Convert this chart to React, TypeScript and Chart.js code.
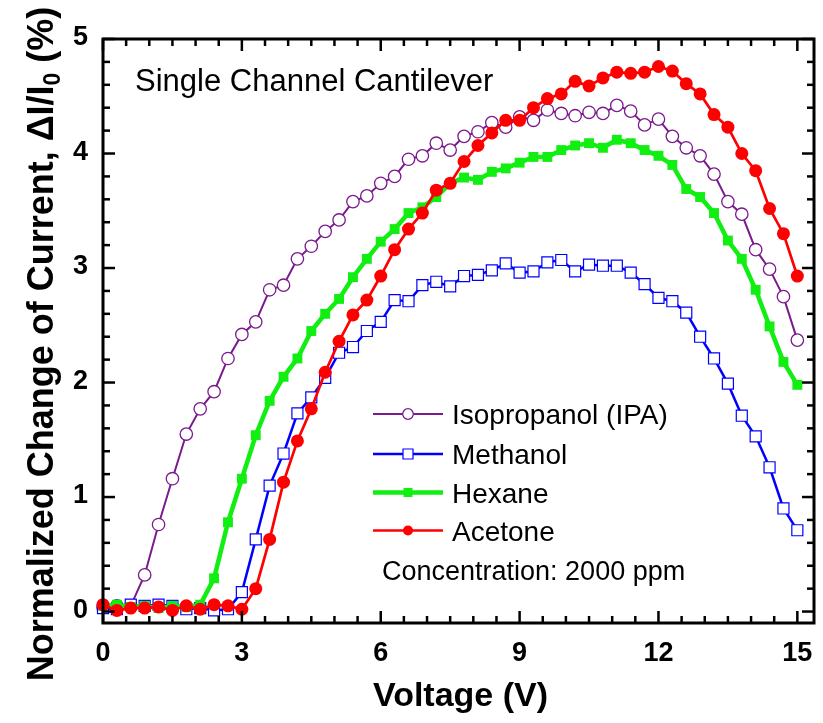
import { useEffect, useRef } from "react";
import { Chart, registerables } from "chart.js";

Chart.register(...registerables);

// ---------- data ----------
const voltage = [
  0, 0.3, 0.6, 0.9, 1.2, 1.5, 1.8, 2.1, 2.4, 2.7,
  3, 3.3, 3.6, 3.9, 4.2, 4.5, 4.8, 5.1, 5.4, 5.7,
  6, 6.3, 6.6, 6.9, 7.2, 7.5, 7.8, 8.1, 8.4, 8.7,
  9, 9.3, 9.6, 9.9, 10.2, 10.5, 10.8, 11.1, 11.4, 11.7,
  12, 12.3, 12.6, 12.9, 13.2, 13.5, 13.8, 14.1, 14.4, 14.7,
  15,
];

const isopropanol = [
  0.04, 0.05, 0.05, 0.32, 0.76, 1.16, 1.55, 1.77, 1.92, 2.21,
  2.42, 2.53, 2.81, 2.85, 3.08, 3.19, 3.32, 3.42, 3.58, 3.63,
  3.74, 3.8, 3.95, 3.98, 4.09, 4.03, 4.15, 4.19, 4.27, 4.23,
  4.32, 4.29, 4.38, 4.35, 4.33, 4.36, 4.35, 4.42, 4.37, 4.25,
  4.3, 4.15, 4.05, 3.98, 3.82, 3.58, 3.47, 3.16, 2.99, 2.75,
  2.37,
];

const methanol = [
  0.03, 0.02, 0.06, 0.05, 0.06, 0.05, 0.02, 0.03, 0.01, 0.02,
  0.17, 0.63, 1.1, 1.38, 1.73, 1.87, 2.04, 2.26, 2.31, 2.45,
  2.53, 2.72, 2.71, 2.85, 2.88, 2.84, 2.93, 2.94, 2.98, 3.04,
  2.96, 2.97, 3.05, 3.07, 2.97, 3.03, 3.02, 3.02, 2.96, 2.86,
  2.74, 2.71, 2.61, 2.4, 2.21, 1.99, 1.71, 1.53, 1.26, 0.9,
  0.71,
];

const hexane = [
  0.05, 0.06, 0.04, 0.05, 0.03, 0.05, 0.04, 0.06, 0.29, 0.78,
  1.16, 1.54, 1.84, 2.05, 2.21, 2.45, 2.6, 2.73, 2.92, 3.08,
  3.23, 3.34, 3.48, 3.53, 3.62, 3.74, 3.79, 3.77, 3.84, 3.87,
  3.92, 3.97, 3.97, 4.03, 4.07, 4.09, 4.05, 4.12, 4.09, 4.03,
  3.98, 3.9, 3.69, 3.62, 3.48, 3.24, 3.08, 2.81, 2.49, 2.18,
  1.98,
];

const acetone = [
  0.06, 0.01, 0.03, 0.03, 0.04, 0.01, 0.05, 0.02, 0.06, 0.05,
  0.02, 0.2, 0.63, 1.13, 1.49, 1.77, 2.09, 2.36, 2.59, 2.72,
  2.93, 3.16, 3.34, 3.48, 3.68, 3.74, 3.93, 4.07, 4.18, 4.29,
  4.29, 4.4, 4.48, 4.52, 4.63, 4.59, 4.66, 4.71, 4.7, 4.71,
  4.76, 4.72, 4.61, 4.52, 4.34, 4.23, 4.0, 3.85, 3.52, 3.3,
  2.93,
];

const seriesNames = ["Isopropanol (IPA)", "Methanol", "Hexane", "Acetone"];
const xTickLabels = [0, 3, 6, 9, 12, 15];
const yTickLabels = [0, 1, 2, 3, 4, 5];

const FONT = '"Liberation Sans", Arial, Helvetica, sans-serif';

const toPoints = (ys: number[]) => ys.map((y, i) => ({ x: voltage[i], y }));

const framePlugin = {
  id: "framePlugin",
  afterDraw(chart: any) {
    const { ctx, chartArea: a } = chart;
    const xs = chart.scales.x;
    const ys = chart.scales.y;
    ctx.save();

    // frame
    ctx.strokeStyle = "#000";
    ctx.lineWidth = 3;
    ctx.strokeRect(a.left, a.top, a.right - a.left, a.bottom - a.top);

    // inward ticks
    ctx.lineWidth = 2.5;
    const seg = (x1: number, y1: number, x2: number, y2: number) => {
      ctx.beginPath();
      ctx.moveTo(x1, y1);
      ctx.lineTo(x2, y2);
      ctx.stroke();
    };
    for (let k = 0; k <= 30; k++) {
      const v = k * 0.5;
      const px = xs.getPixelForValue(v);
      const len = k % 6 === 0 ? 12 : 7;
      seg(px, a.bottom, px, a.bottom - len);
      seg(px, a.top, px, a.top + len);
    }
    for (let k = 0; k <= 25; k++) {
      const v = k * 0.2;
      const py = ys.getPixelForValue(v);
      const len = k % 5 === 0 ? 12 : 7;
      seg(a.left, py, a.left + len, py);
      seg(a.right, py, a.right - len, py);
    }

    // tick labels
    ctx.fillStyle = "#000";
    ctx.font = `bold 27px ${FONT}`;
    ctx.textAlign = "center";
    ctx.textBaseline = "middle";
    xTickLabels.forEach((v) => {
      ctx.fillText(String(v), xs.getPixelForValue(v), 654);
    });
    ctx.textAlign = "right";
    yTickLabels.forEach((v) => {
      ctx.fillText(String(v), 88, ys.getPixelForValue(v) - 1);
    });

    // x title
    ctx.font = `bold 34px ${FONT}`;
    ctx.textAlign = "center";
    ctx.textBaseline = "alphabetic";
    ctx.fillText("Voltage (V)", (a.left + a.right) / 2 + 2, 706);

    // y title with subscript
    const mainTxt = "Normalized Change of Current, \u0394I/I";
    const subTxt = "0";
    const endTxt = " (%)";
    const fMain = `bold 36px ${FONT}`;
    const fSub = `bold 23px ${FONT}`;
    ctx.font = fMain;
    const w1 = ctx.measureText(mainTxt).width;
    const w3 = ctx.measureText(endTxt).width;
    ctx.font = fSub;
    const w2 = ctx.measureText(subTxt).width;
    const total = w1 + w2 + w3;
    ctx.save();
    ctx.translate(53, 344);
    ctx.rotate(-Math.PI / 2);
    ctx.textAlign = "left";
    let cx = -total / 2;
    ctx.font = fMain;
    ctx.fillText(mainTxt, cx, 0);
    cx += w1;
    ctx.font = fSub;
    ctx.fillText(subTxt, cx, 7);
    cx += w2;
    ctx.font = fMain;
    ctx.fillText(endTxt, cx, 0);
    ctx.restore();

    // annotation texts
    ctx.font = `31px ${FONT}`;
    ctx.textAlign = "left";
    ctx.fillText("Single Channel Cantilever", 135, 91);
    ctx.font = `27px ${FONT}`;
    ctx.fillText("Concentration: 2000 ppm", 382, 580);

    // legend
    const rows = [414, 454, 492.5, 530.5];
    chart.data.datasets.forEach((ds: any, i: number) => {
      const y = rows[i];
      ctx.strokeStyle = ds.borderColor;
      ctx.lineWidth = ds.borderWidth;
      seg(373, y, 443, y);
      const cxm = 408;
      ctx.lineWidth = ds.pointBorderWidth;
      ctx.fillStyle = ds.pointBackgroundColor;
      ctx.strokeStyle = ds.pointBorderColor;
      ctx.beginPath();
      if (ds.pointStyle === "circle") {
        ctx.arc(cxm, y, ds.legendSize, 0, Math.PI * 2);
      } else {
        ctx.rect(cxm - ds.legendSize, y - ds.legendSize, ds.legendSize * 2, ds.legendSize * 2);
      }
      ctx.fill();
      if (ds.pointBorderWidth > 0) ctx.stroke();
      ctx.fillStyle = "#000";
      ctx.font = `28px ${FONT}`;
      ctx.textAlign = "left";
      ctx.textBaseline = "alphabetic";
      ctx.fillText(seriesNames[i], 452, y + 10);
    });

    ctx.restore();
  },
};

export default function App() {
  const canvasRef = useRef<HTMLCanvasElement | null>(null);

  useEffect(() => {
    const canvas = canvasRef.current;
    if (!canvas) return;
    const chart = new Chart(canvas, {
      type: "line",
      data: {
        datasets: [
          {
            label: seriesNames[0],
            data: toPoints(isopropanol),
            borderColor: "#7a1a8c",
            borderWidth: 2,
            pointStyle: "circle",
            pointRadius: 6.2,
            pointBorderWidth: 1.3,
            pointBorderColor: "#7a1a8c",
            pointBackgroundColor: "#ffffff",
            legendSize: 5.3,
            order: 3,
            clip: false,
          } as any,
          {
            label: seriesNames[1],
            data: toPoints(methanol),
            borderColor: "#0000ff",
            borderWidth: 2.5,
            pointStyle: "rect",
            pointRadius: 7.8,
            pointBorderWidth: 1.2,
            pointBorderColor: "#0000ff",
            pointBackgroundColor: "#ffffff",
            legendSize: 5,
            order: 2,
            clip: false,
          },
          {
            label: seriesNames[2],
            data: toPoints(hexane),
            borderColor: "#11ee11",
            borderWidth: 4.5,
            pointStyle: "rect",
            pointRadius: 7,
            pointBorderWidth: 0,
            pointBorderColor: "#11ee11",
            pointBackgroundColor: "#11ee11",
            legendSize: 4.5,
            order: 1,
            clip: false,
          },
          {
            label: seriesNames[3],
            data: toPoints(acetone),
            borderColor: "#ff0000",
            borderWidth: 2.7,
            pointStyle: "circle",
            pointRadius: 6.5,
            pointBorderWidth: 0,
            pointBorderColor: "#ff0000",
            pointBackgroundColor: "#ff0000",
            legendSize: 5,
            order: 0,
            clip: false,
          },
        ] as any,
      },
      options: {
        responsive: false,
        animation: false,
        devicePixelRatio: 1,
        layout: { padding: { left: 103, top: 39, right: 4, bottom: 100 } },
        plugins: { legend: { display: false }, tooltip: { enabled: false } },
        elements: { line: { tension: 0 } },
        scales: {
          x: { type: "linear", min: 0, max: 15.36, display: false },
          y: { type: "linear", min: -0.1, max: 5, display: false },
        },
      },
      plugins: [framePlugin],
    });
    return () => chart.destroy();
  }, []);

  return (
    <div style={{ position: "fixed", left: 0, top: 0, width: 823, height: 723, background: "#fff" }}>
      <canvas ref={canvasRef} width={823} height={723} style={{ display: "block" }} />
    </div>
  );
}
